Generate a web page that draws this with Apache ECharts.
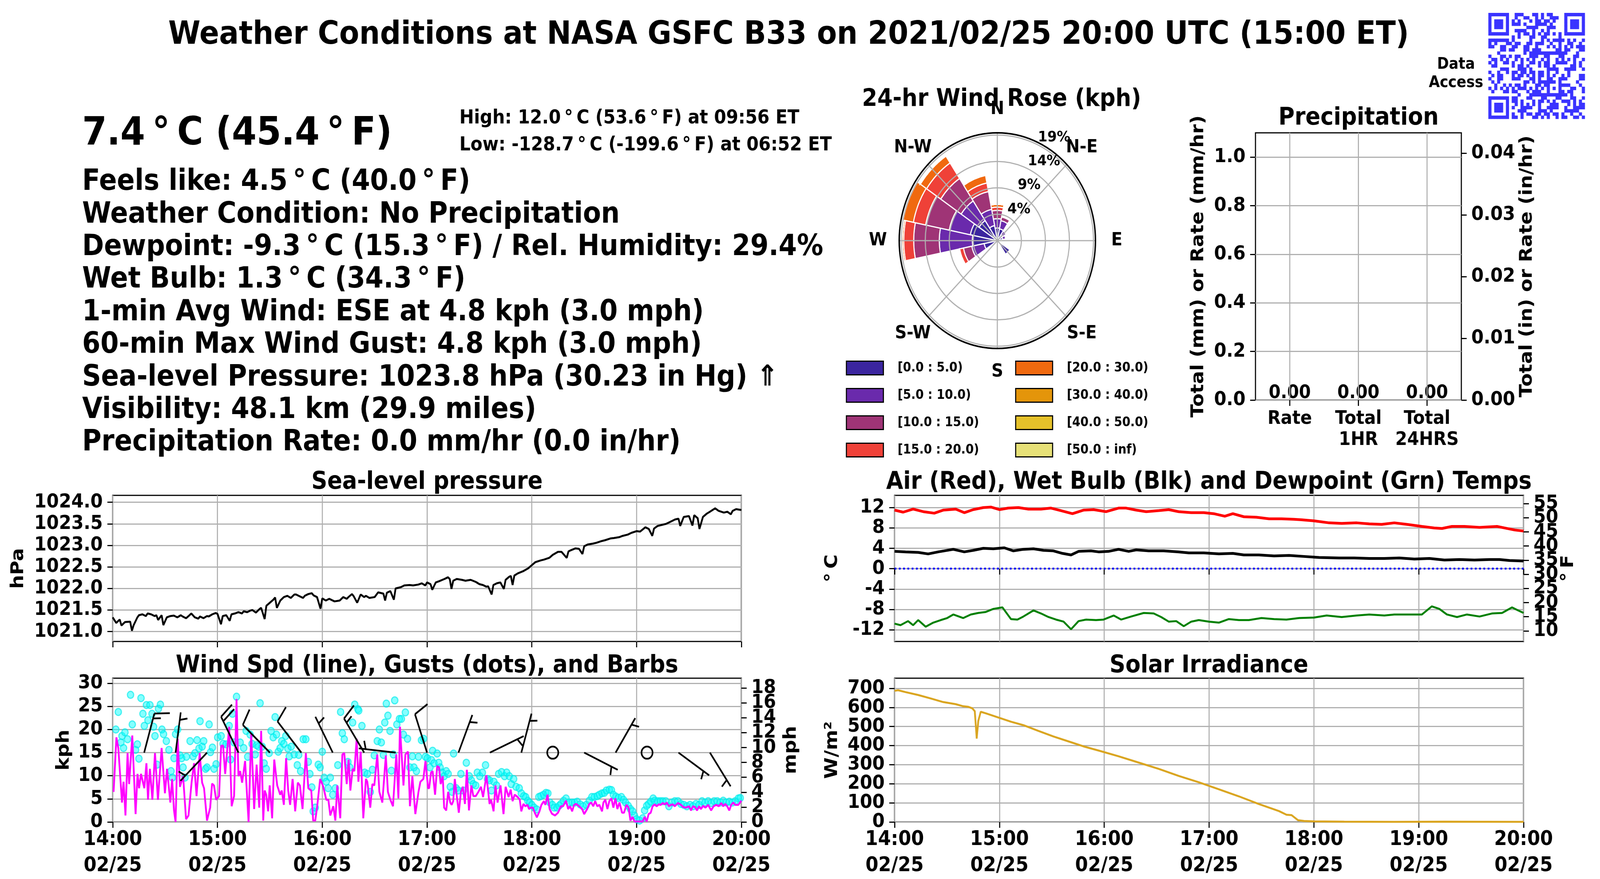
<!DOCTYPE html>
<html>
<head>
<meta charset="utf-8">
<script src="https://cdn.jsdelivr.net/npm/echarts@6/dist/echarts.min.js"></script>
<style>
html, body { margin: 0; padding: 0; background: #fff; overflow: hidden; width: 100%; height: 100%; }
#wrap { position: relative; width: 100vw; height: 100vh; overflow: hidden; background: #fff; }
#chart { position: absolute; left: 0; top: 0; width: 4500px; height: 2250px; transform-origin: 0 0; }
</style>
</head>
<body>
<div id="wrap"><div id="chart"></div></div>
<script>
// ---------- data ----------
// time axis: minutes after 14:00 ET, 02/25
const timeTicks = ['14:00', '15:00', '16:00', '17:00', '18:00', '19:00', '20:00'];
const dateTick = '02/25';

// sea-level pressure (hPa)
const pressMin = [0,2,4,5,7,10,11,12,14,15, 17,19,20,22,24,25,26,28,29,31, 33,35,37,39,40,42,44,45,47,49,
  50,52,54,55,57,59,60,62,63,65, 67,68,70,72,74,75,77,79,80,82, 84,85,87,88,90,92,93,94,96,98,
  100,102,104,105,107,109,110,112,114,115, 117,119,120,122,124,125,127,130,132,134, 135,137,138,140,142,144,145,147,150,152,
  155,156,157,159,161,162,165,167,170,172, 175,177,179,180,182,183,185,187,190,192, 193,194,195,197,200,202,205,208,210,212,
  214,215,217,218,220,222,224,225,227,228, 229,230,232,235,238,240,242,245,247,250, 252,255,257,260,261,262,265,267,269,270,
  272,275,277,280,282,285,287,290,292,295, 297,300,302,305,307,309,310,312,315,317, 320,322,324,325,327,330,332,333,335,336,
  338,340,342,345,347,350,352,354,355,357, 360];
const pressVal = [
  1021.33,1021.20,1021.28,1021.14,1021.22,1021.23,1021.02,1021.15,1021.32,1021.38,
  1021.40,1021.36,1021.42,1021.40,1021.36,1021.38,1021.27,1021.38,1021.15,1021.33,
  1021.36,1021.37,1021.33,1021.38,1021.35,1021.31,1021.38,1021.42,1021.33,1021.30,
  1021.35,1021.31,1021.36,1021.35,1021.40,1021.43,1021.41,1021.17,1021.36,1021.38,
  1021.25,1021.40,1021.42,1021.45,1021.42,1021.47,1021.45,1021.49,1021.50,1021.44,
  1021.52,1021.55,1021.29,1021.60,1021.67,1021.74,1021.79,1021.55,1021.72,1021.80,
  1021.83,1021.78,1021.86,1021.86,1021.82,1021.78,1021.83,1021.87,1021.89,1021.84,
  1021.80,1021.53,1021.77,1021.72,1021.76,1021.74,1021.70,1021.72,1021.80,1021.76,
  1021.80,1021.87,1021.82,1021.67,1021.86,1021.80,1021.83,1021.78,1021.80,1021.91,
  1021.88,1021.72,1021.90,1021.94,1021.74,1022.00,1022.03,1022.07,1022.08,1022.07,
  1022.09,1022.12,1022.07,1022.14,1022.10,1021.97,1022.14,1022.17,1022.22,1022.26,
  1022.22,1021.99,1022.18,1022.22,1022.20,1022.18,1022.20,1022.15,1022.10,1022.08,
  1022.04,1022.05,1021.86,1022.08,1022.12,1022.14,1021.99,1022.20,1022.27,1022.29,
  1022.08,1022.30,1022.35,1022.40,1022.47,1022.54,1022.61,1022.65,1022.67,1022.71,
  1022.78,1022.85,1022.85,1022.71,1022.86,1022.88,1022.93,1022.92,1022.80,1022.98,
  1023.02,1023.04,1023.06,1023.10,1023.12,1023.16,1023.17,1023.19,1023.22,1023.25,
  1023.29,1023.33,1023.32,1023.42,1023.38,1023.22,1023.39,1023.45,1023.48,1023.50,
  1023.56,1023.60,1023.62,1023.45,1023.66,1023.68,1023.46,1023.70,1023.63,1023.38,
  1023.66,1023.73,1023.78,1023.86,1023.80,1023.76,1023.78,1023.72,1023.80,1023.84,
  1023.82];
const pressTicks = [1021.0, 1021.5, 1022.0, 1022.5, 1023.0, 1023.5, 1024.0];

// temperatures (deg C)
const airMin = [0,4.9,10.6,16.4,22.7,27.8,35.0,39.9,45.0,50.8,55.1,60.0,65.1,70.9,76.6,83.8,89.5,95.2,101.8,108.1,
  113.9,121.1,128.2,132.5,138.3,144.0,151.2,156.9,162.6,169.8,177.0,182.7,189.0,193.6,199.9,207.1,214.3,221.5,228.6,232.9,
  240.1,248.7,255.9,264.5,271.7,278.8,286.0,293.2,301.8,308.9,313.3,319.0,326.2,334.8,344.8,349.1,354.9,360];
const airC = [11.5,11.1,11.7,11.2,10.9,11.5,11.7,11.0,11.6,12.0,12.1,11.6,11.9,12.0,11.7,11.7,11.9,11.4,10.8,11.5,
  11.6,11.2,11.9,11.9,11.5,11.2,11.4,11.6,11.2,11.0,11.0,10.8,10.3,10.8,10.2,10.1,9.8,9.8,9.7,9.6,
  9.4,9.0,8.9,9.0,8.8,8.7,9.0,8.7,8.3,8.0,7.9,8.3,8.3,8.1,8.3,8.0,7.6,7.4];
const wetMin = [0,6.3,13.5,19.2,25.0,33.6,39.9,45.0,50.8,56.5,62.8,68.0,73.7,79.5,85.2,90.9,96.1,101.0,105.3,112.4,
  116.8,122.5,128.2,134.0,138.3,145.4,154.0,162.6,168.4,177.0,185.6,193.6,199.9,208.5,217.2,225.8,234.4,243.0,254.4,263.1,
  271.7,280.3,288.9,297.5,306.1,314.7,323.3,331.9,340.5,346.2,352.0,360];
const wetC = [3.4,3.3,3.2,2.9,3.3,3.8,3.3,3.6,4.0,3.9,4.1,3.5,3.8,3.9,3.6,3.5,3.0,2.7,3.4,3.5,
  3.3,3.4,3.8,3.4,3.7,3.5,3.5,3.3,3.1,3.1,2.9,3.0,2.7,2.7,2.5,2.6,2.4,2.2,2.1,2.1,
  2.0,2.0,2.1,1.9,2.0,1.7,1.8,1.7,1.8,1.8,1.6,1.5];
const dewMin = [0,3.4,7.7,10.6,13.5,17.8,22.1,26.4,30.1,33.6,39.3,43.6,47.9,52.2,56.5,61.7,66.6,70.3,73.7,79.5,
  83.8,88.1,92.4,96.7,101.0,105.3,109.6,115.3,119.6,125.4,129.7,135.4,142.6,148.3,152.6,156.9,161.2,165.5,169.8,174.1,
  179.9,185.6,191.3,197.1,202.8,210.0,217.2,224.3,231.5,240.1,247.3,255.9,264.5,271.7,280.3,286.0,293.2,301.8,307.5,311.8,
  316.1,321.9,327.6,334.8,341.9,347.7,353.4,356.3,360];
const dewC = [-10.8,-11.1,-10.3,-11.1,-10.1,-11.4,-10.6,-10.1,-9.7,-9.0,-9.7,-9.0,-8.7,-8.5,-7.9,-7.6,-9.9,-10.0,-9.4,-8.2,
  -8.8,-9.5,-10.0,-10.4,-11.9,-10.3,-10.0,-10.1,-10.0,-9.2,-10.0,-9.4,-8.7,-8.8,-9.5,-10.4,-10.3,-11.3,-10.4,-10.1,
  -10.4,-10.6,-9.9,-10.1,-10.1,-9.7,-9.9,-10.0,-9.7,-9.6,-9.2,-9.5,-9.2,-9.0,-9.2,-9.0,-9.0,-9.0,-7.4,-7.9,
  -9.0,-9.5,-9.0,-9.4,-8.8,-8.7,-7.6,-8.1,-8.7];
const tempCTicks = [-12, -8, -4, 0, 4, 8, 12];
const tempFTicks = [10, 15, 20, 25, 30, 35, 40, 45, 50, 55];

// 1-min wind speed (kph)
const windMin = [0.5,2.1,3.2,5.3,6.2,7.3,8.5,9.4,11.2,13.1, 14.2,15.1,16.2,18.1,19.3,20.2,21.3,22.7,24.2,25.9,
  28.0,29.9,31.1,33.0,34.0,35.1,36.0,37.2,38.5,40.3, 42.0,43.4,45.2,46.6,48.0,49.8,51.2,52.3,54.0,55.8,
  56.9,58.0,59.2,60.9,62.1,63.2,64.4,66.7,68.1,69.5, 70.9,72.0,73.0,74.1,75.8,76.6,77.8,79.3,81.0,82.4,
  83.9,85.0,86.2,87.0,87.9,89.0,89.9,91.3,92.5,94.2, 95.9,96.8,98.0,99.3,100.5,101.6,103.0,104.5,106.0,107.2,
  108.7,110.6,112.0,113.7,114.8,116.0,117.1,118.8,120.6,122.3, 123.5,124.6,126.3,127.5,128.6,130.3,131.5,132.6,134.0,135.1,
  136.1,137.4,138.4,139.7,140.7,142.0,143.5,145.0,145.8,147.5, 148.7,149.8,151.5,152.7,154.4,156.4,157.6,159.0,160.5,162.4,
  163.6,164.5,166.5,167.6,169.1,170.2,171.6,173.3,175.1,176.2, 177.9,179.1,180.6,
  181.2,182.3,183.2,184.6,185.8,186.9,187.8,189.0,189.8,191.0, 192.1,193.3,194.1,195.0,195.9,197.1,198.2,199.4,200.5,201.7,
  202.8,204.0,205.4,206.5,207.9,209.4,210.9,212.1,214.0,215.8, 216.7,218.1,219.2,220.4,222.1,223.8,225.0,226.7,227.9,229.0,
  230.2,231.9,233.1,234.0,235.2,236.3,237.5,238.4,239.4,240.6, 241.7,242.9,244.4,245.5,246.9,247.8,249.0,250.2,251.5,253.3,
  255.0,256.7,257.9,259.6,260.8,261.9,263.1,264.2,265.4,267.1, 268.8,270.0,271.7,272.9,274.0,275.2,276.3,277.5,278.7,280.2,
  281.0,282.1,283.3,284.4,285.6,286.7,287.9,289.0,290.2,291.7, 292.8,294.2,295.4,296.5,297.7,298.8,301.2,303.5,304.6,305.8,
  306.9,308.1,309.2,310.4,311.5,312.7,313.8,315.0,316.2,317.3, 318.5,319.6,320.8,321.9,323.7,325.4,326.8,328.3,330.0,331.2,
  332.3,333.5,334.6,335.8,336.9,338.1,339.5,341.0,342.7,344.1, 345.6,347.1,348.5,349.6,350.8,351.9,353.1,354.2,355.4,356.5,
  358.3,360];
const windKph = [6.5,18.3,16,4.2,8.7,1.4,14.9,8.2,18.7,1.7, 10.4,7.3,10.4,7.3,12.7,4.8,11.5,4.8,14.9,4.8,
  16,6.2,11.5,4.2,9.3,2.5,0,18,7.6,9.9, 0.6,1.4,8.7,12.7,5.6,14.9,8.5,7.3,0.3,3.1,
  8.3,7.9,4.8,5.6,16.5,16.5,10.4,20.6,3.4,5.6, 26.6,9.9,11,8.5,13.2,7.9,0,19.2,2.8,12.4,
  3.1,19.7,0.3,6.8,5.9,2.3,7.9,0.8,13.5,7.9, 5.9,6.8,3.7,13.8,6.8,3.7,9.3,2.3,8.5,7.9,
  2.8,14.9,7.3,6.8,0.3,0.3,3.4,9.3,7.6,4.8, 4.8,1.4,3.4,0.3,7.9,0.8,14.6,14.9,8.2,13.5,
  6.8,11.5,11,18,8.7,15.2,0.8,9.3,8.7,3.1, 8.2,7.9,14.6,6.5,4.2,14.4,6.5,4.8,3.4,14.6,
  5.1,20.6,7.9,14.6,15.2,3.4,9.9,1.7,6.5,8.7, 9.3,13.2,7.3,
  7.3,10.7,11,5.9,12.1,11.8,8.2,9.9,3.1,2.5, 6.5,4.2,3.7,4.5,9.3,5.4,2,6.5,7.6,3.9,
  11.3,2.5,7.9,5.6,5.6,6.5,7.6,5.4,10.1,3.9, 4.8,2.3,7.9,4.2,7.9,1.7,7.6,5.4,7,4.5,
  5.9,5.4,4.8,2.3,3.9,3.4,3.7,2.8,3.1,3.1, 2,1,2.3,3.7,4.5,3.7,5.9,2.8,1.8,1.4,
  2,3.4,3.4,4.6,2.8,3.4,2.3,3.7,3.9,3.4, 2.8,1.7,2.8,3.9,4.2,3.4,4.5,3.4,3.7,2.3,
  4.2,4.8,2.8,4.5,5.1,3.1,5.1,2.8,4.2,2, 2,3.7,3.1,0.3,1.1,0.1,0.1,0.1,1.1,0.1,
  1.7,2,3.4,3.8,3.4,3.8,3.7,4.1,3.8,4.2, 3.4,3.7,3.8,3.4,4.1,3.7,3.2,3.1,3.4,2.5,
  3.4,3.2,2.5,3.4,2.8,3.5,3.1,3.7,2.5,3.4, 3.7,3.4,4.1,3.4,3.9,3.4,2.5,3.7,4.2,3.7,
  3.7,4.6];

// gusts (kph)
const gustMin = [1.8,3.2,4.7,5.3,6.2,7.0,8.5,10.2,11.2,13.1, 14.1,15.0,16.2,17.3,18.1,19.3,20.2,21.3,22.5,23.4,
  24.2,25.4,26.2,27.3,28.2,29.1,30.7,32.2,33.4,34.2, 35.1,36.0,37.2,38.5,39.5,40.3,41.4,42.2,44.3,46.0,
  47.1,48.3,49.4,50.0,51.2,52.1,53.2,54.0,55.2,56.0, 57.1,58.0,59.2,60.1,62.1,63.2,64.9,66.7,67.5,68.6,
  69.5,70.9,73.0,75.0,76.4,77.3,78.7,79.8,81.6,82.4, 83.5,84.4,85.6,86.7,87.9,89.6,90.7,91.9,93.0,93.8,
  94.8,95.9,96.8,98.0,99.1,100.3,101.1,102.2,103.9,105.7, 106.5,107.6,109.1,110.6,112.0,112.9,114.0,114.8,116.0,117.7,
  118.8,120.0,121.1,122.3,123.4,124.6,126.0,127.5,128.9,130.5, 131.5,132.6,134.7,135.8,137.4,138.6,140.4,140.9,142.7,144.3,
  145.8,147.5,148.7,149.8,151.5,152.7,153.8,155.0,155.8,156.7, 157.6,158.8,159.6,160.7,161.5,162.7,164.2,165.3,166.5,167.6,
  168.8,170.2,171.6,172.5,173.9,175.1,176.8,178.0,179.1,180.2,
  181.7,182.5,183.2,184.0,185.8,186.7,187.5,188.7,189.8,191.0, 192.1,193.3,194.4,195.2,196.7,197.9,199.4,200.8,202.5,204.2,
  205.4,206.5,207.9,208.8,210.2,211.7,213.5,214.6,215.8,216.9, 218.3,219.8,221.0,222.7,224.4,225.6,227.1,228.2,229.6,231.0,
  232.8,234.0,235.4,236.5,237.7,238.8,240.0,241.4,242.9,244.0, 245.2,246.7,248.1,249.2,250.4,251.8,252.9,254.4,255.6,256.7,
  258.2,259.6,261.3,263.1,264.5,266.0,267.7,269.4,271.2,272.9, 274.4,275.8,277.5,278.7,280.2,281.5,282.7,284.4,285.6,286.7,
  288.2,289.6,291.3,292.5,293.7,295.2,296.5,297.7,298.8,300.0, 301.7,303.5,304.6,305.8,306.9,308.1,309.5,310.4,312.1,313.6,
  315.0,316.7,318.5,320.2,321.9,323.7,325.4,327.1,328.8,330.6, 332.3,334.0,335.8,337.5,339.2,341.0,342.7,344.4,346.2,347.9,
  349.6,351.3,353.1,354.8,356.5,358.3,359.4];
const gustKph = [20,23.8,17.2,18.6,16,19.4,17.9,27.5,21.1,15.6, 16.8,13.7,26.8,23.4,20.8,25.3,22,25.3,23.4,20.6,
  18.6,12.4,24.5,25.4,20,19,17.5,15.6,11,9.6, 13.8,19,20,14.4,13.8,11.8,9.6,14.1,17.5,14.2,
  14.9,17.7,15.9,21.8,16.3,17.5,11.5,11.8,21.1,15.1, 16.1,11.5,12.5,18.3,18.6,16.9,16.8,20.8,13.5,23.4,
  17.2,27.1,17.2,16,19.7,14.1,18.9,16.9,14.6,16.6, 16.3,25.7,16.3,12.7,11.5,14.9,19.7,18.3,22.7,18.9,
  15.2,16,17.5,16.9,18.6,15.9,14.2,16.3,14.6,12.3, 14.5,11,17.9,17.9,13,10.4,7.5,2.3,3.1,12.4,
  11.8,15.2,9.6,8.7,7.3,9.6,5.9,7.3,12.3,23.8, 19.2,17.9,13,11.8,21.5,25.4,24.4,24.1,20.8,10.7,
  10.4,6.5,11.3,14.4,17.5,20,17.2,14.5,21.5,25.6, 23,19.7,11.1,14.6,26.3,21.1,22.3,22.3,18.9,23.7,
  18,11.8,14.2,11.8,11,14.1,17.7,18,14.1,13.8,
  11.8,13.4,15.4,12.7,14.8,12.8,11.8,10.7,9.9,11, 10.4,7.6,6.5,14.8,7.3,6.8,10.4,6.8,12.8,9.9,
  9,8.2,7.9,10.7,9.9,10.7,12.3,9.3,9,6.8, 8.7,7.9,10.4,10.8,9.9,10.7,9.9,8.2,9.3,7.6,
  7.3,6.2,5.6,5.4,4.6,4.2,3.7,3.1,2.7,5.4, 5.6,5.9,6.3,6.2,4.2,3.7,3.1,3.1,3.5,3.9,
  4.6,5.1,4.2,4.2,4.2,4.4,3.8,3.4,3.7,4.6, 5.4,5.4,5.6,5.9,6.2,6.3,6.8,7,6.9,5.9,
  5.5,5.2,5.4,4.8,4.2,3.5,2.8,2.3,1.4,0.6, 0.3,0.8,2.5,3.5,3.9,4.4,5.1,4.6,4.5,4.5,
  4.5,4.5,3.4,4.2,4.5,4.5,3.9,3.7,3.4,3.7, 3.4,3.9,3.7,4.5,4.2,4.5,4.1,4.5,4.5,4.2,
  4.6,4.2,4.4,4.2,4.5,5.1,5.2];
const kphTicks = [0, 5, 10, 15, 20, 25, 30];
const mphTicks = [0, 2, 4, 6, 8, 10, 12, 14, 16, 18];

// wind barbs every 18 min: staff direction (deg, clockwise from up) and speed units
const barbMin = [18,36,54,72,90,108,126,144,162,180,198,216,234,252,270,288,306,324,342];
const barbDir = [16,8,226,332,313,320,332,327,276,341,22,66,16,0,115,32,0,124,146];
const barbSpd = [15,5,5,20,10,10,5,15,5,10,5,5,5,0,5,5,0,5,5];
const BARB_LEVEL = 15;

// solar irradiance (W/m2)
const solarMin = [0,2.0,6.3,13.5,20.7,27.8,35.0,39.3,42.2,44.5,45.9,47.0,47.9,49.3,52.2,59.4,66.6,73.7,82.3,90.9,
  99.5,108.1,116.8,128.2,139.7,151.2,162.6,174.1,185.6,197.1,208.5,220.0,224.3,227.2,230.9,234.4,240.1,257.3,286.0,314.7,360];
const solarW = [687,690,680,665,647,628,617,606,603,595,580,437,529,577,569,547,525,507,477,448,
  422,396,374,344,311,278,241,208,171,134,94,57,38,36,9,5,3,1.5,0.7,1.5,0.7];
const solarTicks = [0, 100, 200, 300, 400, 500, 600, 700];

// precipitation
const precipCats = ['Rate', 'Total\n1HR', 'Total\n24HRS'];
const precipVals = [0, 0, 0];
const mmTicks = [0, 0.2, 0.4, 0.6, 0.8, 1.0];
const inTicks = [0, 0.01, 0.02, 0.03, 0.04];

// 24-hr wind rose: % of time per direction, per speed bin
const roseDirs = ['N','NNE','NE','ENE','E','ESE','SE','SSE','S','SSW','SW','WSW','W','WNW','NW','NNW'];
const compassLabels = ['N', 'N-E', 'E', 'S-E', 'S', 'S-W', 'W', 'N-W'];
const binLabels = ['[0.0 : 5.0)', '[5.0 : 10.0)', '[10.0 : 15.0)', '[15.0 : 20.0)',
                   '[20.0 : 30.0)', '[30.0 : 40.0)', '[40.0 : 50.0)', '[50.0 : inf)'];
const binColors = ['#3b259f', '#6a2aac', '#9f3476', '#ef4138', '#f0690f', '#e4950a', '#e5c12a', '#e6e077'];
const roseBins = [
  [2.3,2.2,1.3,1.1,0.5,0.4,3.0,0,0,0,0.3,2.7,5.0,5.5,4.4,2.8],
  [1.7,1.5,0.8,0.6,0.1,0,0,0,0,0,0,2.5,6.6,4.3,4.3,3.0],
  [1.5,0.7,0.2,0.1,0,0,0,0,0,0,0,1.7,5.1,4.8,4.9,3.3],
  [0.6,0.2,0,0,0,0,0,0,0,0,0,0.8,2.0,2.5,3.4,1.6],
  [0.5,0,0,0,0,0,0,0,0,0,0,0,0.3,2.1,1.5,1.4],
  [0,0,0,0,0,0,0,0,0,0,0,0,0,0,0,0],
  [0,0,0,0,0,0,0,0,0,0,0,0,0,0,0,0],
  [0,0,0,0,0,0,0,0,0,0,0,0,0,0,0,0]
];
const roseRings = [4.8, 9.6, 14.4, 19.2];

// text panel
const headline = '7.4\u2009°\u2009C (45.4\u2009°\u2009F)';
const highLow = ['High: 12.0\u2009°\u2009C (53.6\u2009°\u2009F) at 09:56 ET',
                 'Low: -128.7\u2009°\u2009C (-199.6\u2009°\u2009F) at 06:52 ET'];
const infoLines = [
  'Feels like: 4.5\u2009°\u2009C (40.0\u2009°\u2009F)',
  'Weather Condition: No Precipitation',
  'Dewpoint: -9.3\u2009°\u2009C (15.3\u2009°\u2009F) / Rel. Humidity: 29.4%',
  'Wet Bulb: 1.3\u2009°\u2009C (34.3\u2009°\u2009F)',
  '1-min Avg Wind: ESE at 4.8 kph (3.0 mph)',
  '60-min Max Wind Gust: 4.8 kph (3.0 mph)',
  'Sea-level Pressure: 1023.8 hPa (30.23 in Hg) \u21D1',
  'Visibility: 48.1 km (29.9 miles)',
  'Precipitation Rate: 0.0 mm/hr (0.0 in/hr)'
];

// ---------- helpers ----------
const FONT = 'DejaVu Sans';
function bold(size, extra) {
  return Object.assign({ fontFamily: FONT, fontWeight: 'bold', fontSize: size, color: '#000' }, extra || {});
}
function zip(xs, ys) {
  let out = [];
  for (let i = 0; i < Math.min(xs.length, ys.length); i++) out.push([xs[i], ys[i]]);
  return out;
}
// every other tick value (crowded axes get their labels split over two stacked axes)
const everyOther = (arr, start) => arr.filter((v, i) => i % 2 === start);

const tickStyle = { show: true, length: 15, lineStyle: { color: '#000', width: 3 } };
const gridLine = { show: true, lineStyle: { color: '#b0b0b0', width: 3 } };

function timeAxis(grid, showLabels) {
  return {
    type: 'value', gridIndex: grid, min: 0, max: 360, interval: 60,
    axisLine: { show: false },
    axisTick: tickStyle,
    axisLabel: bold(52, {
      show: showLabels, lineHeight: 67, margin: 12, showMinLabel: true, showMaxLabel: true,
      formatter: v => timeTicks[Math.round(v / 60)] + '\n' + dateTick
    }),
    splitLine: gridLine
  };
}
function valAxis(o) {
  const labels = o.labels || o.ticks;
  return {
    type: 'value', gridIndex: o.grid, position: o.pos || 'left', min: o.min, max: o.max,
    axisLine: { show: false },
    axisTick: Object.assign({ customValues: o.ticks }, tickStyle),
    axisLabel: bold(50, { customValues: labels, formatter: o.fmt, margin: 28, lineHeight: 28,
      showMinLabel: true, showMaxLabel: true }),
    splitLine: o.split === false ? { show: false } : gridLine,
    name: o.name, nameLocation: 'middle', nameGap: o.gap, nameTextStyle: bold(50)
  };
}
// second axis on the same side that only carries the remaining labels
function labelAxis(o) {
  return {
    type: 'value', gridIndex: o.grid, position: o.pos || 'left', min: o.min, max: o.max,
    axisLine: { show: false },
    axisTick: { show: false, customValues: o.labels },
    axisLabel: bold(50, { customValues: o.labels, formatter: o.fmt, margin: 28, lineHeight: 28,
      showMinLabel: true, showMaxLabel: true }),
    splitLine: { show: false }
  };
}

// wind barb glyph
function drawBarb(params, api) {
  const base = api.coord([api.value(0), api.value(1)]);
  const ang = api.value(2) * Math.PI / 180;
  const spd = api.value(3);
  const L = 104, sp = 0.125 * L, h = 0.4 * L, w = 0.25 * L;
  const st = { stroke: '#000', lineWidth: 4.5, fill: null };
  if (spd < 2.5) {
    return { type: 'circle', shape: { cx: base[0], cy: base[1], r: 0.15 * L }, style: { stroke: '#000', lineWidth: 4.5, fill: 'none' } };
  }
  const dx = Math.sin(ang), dy = -Math.cos(ang);
  const px = -dy, py = dx;
  const pt = off => [base[0] + dx * off, base[1] + dy * off];
  const tip = pt(L);
  const kids = [{ type: 'line', shape: { x1: base[0], y1: base[1], x2: tip[0], y2: tip[1] }, style: st }];
  const full = Math.floor(spd / 10);
  const half = spd - full * 10 >= 5;
  let off = L;
  for (let i = 0; i < full; i++) {
    const a = pt(off);
    kids.push({ type: 'line', shape: { x1: a[0], y1: a[1], x2: a[0] + px * h + dx * w / 2, y2: a[1] + py * h + dy * w / 2 }, style: st });
    off -= sp;
  }
  if (half) {
    if (full === 0) off -= 1.5 * sp;
    const a = pt(off);
    kids.push({ type: 'line', shape: { x1: a[0], y1: a[1], x2: a[0] + px * h / 2 + dx * w / 4, y2: a[1] + py * h / 2 + dy * w / 4 }, style: st });
  }
  return { type: 'group', children: kids };
}

// pseudo QR block (decoration only)
function qrGraphic() {
  const n = 33, size = 271, x0 = 4186, y0 = 33, m = size / n;
  const kids = [];
  function finder(r, c) {
    return (r < 8 && c < 8) || (r < 8 && c >= n - 8) || (r >= n - 8 && c < 8);
  }
  function finderOn(r, c) {
    let rr = r, cc = c;
    if (cc >= n - 8) cc = cc - (n - 7);
    if (rr >= n - 8) rr = rr - (n - 7);
    if (rr < 0 || cc < 0 || rr > 6 || cc > 6) return false;
    if (rr === 0 || rr === 6 || cc === 0 || cc === 6) return true;
    return rr >= 2 && rr <= 4 && cc >= 2 && cc <= 4;
  }
  for (let r = 0; r < n; r++) {
    for (let c = 0; c < n; c++) {
      let on;
      if (finder(r, c)) on = finderOn(r, c);
      else on = ((r * 7 + c * 11 + (r * c) % 13) % 5) < 2 || ((r + 2 * c) % 9 === 0);
      if (on) kids.push({ type: 'rect', shape: { x: x0 + c * m, y: y0 + r * m, width: m + 0.6, height: m + 0.6 }, style: { fill: '#3a33ff' } });
    }
  }
  return { type: 'group', silent: true, children: kids };
}

// ---------- chart ----------
// the page is laid out on a 4500x2250 canvas; map it onto whatever viewport we get
let chartDom = document.getElementById('chart');
let sx = window.innerWidth / 4500, sy = window.innerHeight / 2250;
if (sx > 0 && sy > 0 && (Math.abs(sx - 1) > 0.001 || Math.abs(sy - 1) > 0.001)) {
  chartDom.style.transform = 'scale(' + sx + ',' + sy + ')';
}

let myChart = echarts.init(chartDom, null, { renderer: 'canvas' });

const ROSE_C = [2805, 616], ROSE_R = 276, COMPASS_R = 336;

let graphics = [];
graphics.push({ type: 'text', x: 231, y: 344, style: { text: headline, fontSize: 100, fontWeight: 'bold', fontFamily: FONT, fill: '#000', verticalAlign: 'middle' } });
highLow.forEach((t, i) => graphics.push({ type: 'text', x: 1292, y: 303 + i * 69, style: { text: t, fontSize: 49, fontWeight: 'bold', fontFamily: FONT, fill: '#000', verticalAlign: 'middle' } }));
infoLines.forEach((t, i) => graphics.push({ type: 'text', x: 231, y: 467 + i * 83.4, style: { text: t, fontSize: 74, fontWeight: 'bold', fontFamily: FONT, fill: '#000', verticalAlign: 'middle' } }));
// compass point names around the rose, centred on a ring just outside it
compassLabels.forEach((t, i) => {
  const a = i * 45 * Math.PI / 180;
  graphics.push({ type: 'text', x: ROSE_C[0] + COMPASS_R * Math.sin(a), y: ROSE_C[1] - COMPASS_R * Math.cos(a), z: 10,
    style: { text: t, fontSize: 46, fontWeight: 'bold', fontFamily: FONT, fill: '#000', align: 'center', verticalAlign: 'middle' } });
});
graphics.push(qrGraphic());

let roseSeries = binLabels.map((name, i) => ({
  type: 'bar', coordinateSystem: 'polar', polarIndex: 0, name: name, stack: 'rose',
  data: roseBins[i], barCategoryGap: '0%',
  itemStyle: { color: binColors[i], borderColor: '#fff', borderWidth: 3 },
  z: 2
}));

const fMin = -14.3 * 1.8 + 32, fMax = 14.4 * 1.8 + 32;
const mphMax = 31.1 / 1.609344;

const option = {
  animation: false,
  backgroundColor: '#fff',
  textStyle: { fontFamily: FONT },
  title: [
    { text: 'Weather Conditions at NASA GSFC B33 on 2021/02/25 20:00 UTC (15:00 ET)', left: 2218, top: 50, textAlign: 'center', padding: 0, textStyle: bold(82, { lineHeight: 82 }) },
    { text: 'Data\nAccess', left: 4095, top: 142, textAlign: 'center', padding: 0, textStyle: bold(40, { lineHeight: 47 }) },
    { text: '24-hr Wind Rose (kph)', left: 2817, top: 224, textAlign: 'center', padding: 0, textStyle: bold(62, { lineHeight: 62 }) },
    { text: 'Precipitation', left: 3821, top: 272, textAlign: 'center', padding: 0, textStyle: bold(62, { lineHeight: 62 }) },
    { text: 'Sea-level pressure', left: 1201, top: 1204, textAlign: 'center', padding: 0, textStyle: bold(62, { lineHeight: 62 }) },
    { text: 'Air (Red), Wet Bulb (Blk) and Dewpoint (Grn) Temps', left: 3400, top: 1204, textAlign: 'center', padding: 0, textStyle: bold(62, { lineHeight: 62 }) },
    { text: 'Wind Spd (line), Gusts (dots), and Barbs', left: 1201, top: 1674, textAlign: 'center', padding: 0, textStyle: bold(62, { lineHeight: 62 }) },
    { text: 'Solar Irradiance', left: 3400, top: 1674, textAlign: 'center', padding: 0, textStyle: bold(62, { lineHeight: 62 }) }
  ],
  legend: [
    { data: binLabels.slice(0, 4), orient: 'vertical', left: 2379, top: 923, padding: 0, itemWidth: 104, itemHeight: 35, itemGap: 32, icon: 'rect', selectedMode: false,
      textStyle: bold(33, { lineHeight: 35, padding: [0, 0, 0, 35] }), itemStyle: { borderColor: '#000', borderWidth: 3 } },
    { data: binLabels.slice(4), orient: 'vertical', left: 2855, top: 923, padding: 0, itemWidth: 104, itemHeight: 35, itemGap: 32, icon: 'rect', selectedMode: false,
      textStyle: bold(33, { lineHeight: 35, padding: [0, 0, 0, 35] }), itemStyle: { borderColor: '#000', borderWidth: 3 } }
  ],
  graphic: graphics,
  grid: [
    { left: 317, top: 1268, width: 1768, height: 374, show: true, borderColor: '#000', borderWidth: 3 },
    { left: 2516, top: 1268, width: 1769, height: 374, show: true, borderColor: '#000', borderWidth: 3 },
    { left: 317, top: 1736, width: 1768, height: 376, show: true, borderColor: '#000', borderWidth: 3 },
    { left: 2516, top: 1736, width: 1769, height: 376, show: true, borderColor: '#000', borderWidth: 3 },
    { left: 3531, top: 340, width: 579, height: 684, show: true, borderColor: '#000', borderWidth: 3 }
  ],
  xAxis: [
    timeAxis(0, false),
    timeAxis(1, false),
    timeAxis(2, true),
    timeAxis(3, true),
    { type: 'category', gridIndex: 4, data: precipCats, boundaryGap: true,
      axisLine: { show: false },
      axisTick: Object.assign({ alignWithLabel: true }, tickStyle),
      axisLabel: bold(48, { lineHeight: 54, margin: 22, interval: 0 }),
      splitLine: { show: false } }
  ],
  yAxis: [
    valAxis({ grid: 0, min: 1020.77, max: 1024.16, ticks: pressTicks, fmt: v => v.toFixed(1), name: 'hPa', gap: 240 }),
    valAxis({ grid: 1, min: -14.3, max: 14.4, ticks: tempCTicks, fmt: v => String(v), name: '°\u2009C', gap: 150 }),
    valAxis({ grid: 1, pos: 'right', min: fMin, max: fMax, ticks: tempFTicks, labels: everyOther(tempFTicks, 1), fmt: v => String(v), name: '°\u2009F', gap: 100, split: false }),
    valAxis({ grid: 2, min: 0, max: 31.1, ticks: kphTicks, fmt: v => String(v), name: 'kph', gap: 112 }),
    valAxis({ grid: 2, pos: 'right', min: 0, max: mphMax, ticks: mphTicks, labels: everyOther(mphTicks, 0), fmt: v => String(v), name: 'mph', gap: 115, split: false }),
    valAxis({ grid: 3, min: 0, max: 753, ticks: solarTicks, labels: everyOther(solarTicks, 0), fmt: v => String(v), name: 'W/m²', gap: 150 }),
    valAxis({ grid: 4, min: 0, max: 1.1, ticks: mmTicks, fmt: v => v.toFixed(1), name: 'Total (mm) or Rate (mm/hr)', gap: 135 }),
    valAxis({ grid: 4, pos: 'right', min: 0, max: 1.1 / 25.4, ticks: inTicks, fmt: v => v.toFixed(2), name: 'Total (in) or Rate (in/hr)', gap: 160, split: false }),
    labelAxis({ grid: 1, pos: 'right', min: fMin, max: fMax, labels: everyOther(tempFTicks, 0), fmt: v => String(v) }),
    labelAxis({ grid: 2, pos: 'right', min: 0, max: mphMax, labels: everyOther(mphTicks, 1), fmt: v => String(v) }),
    labelAxis({ grid: 3, min: 0, max: 753, labels: everyOther(solarTicks, 1), fmt: v => String(v) })
  ],
  polar: [
    { center: ROSE_C, radius: ROSE_R },
    { center: ROSE_C, radius: ROSE_R },
    { center: ROSE_C, radius: ROSE_R }
  ],
  angleAxis: [
    { polarIndex: 0, type: 'category', data: roseDirs, startAngle: 101.25, clockwise: true, boundaryGap: true,
      axisLine: { show: false }, axisTick: { show: false }, axisLabel: { show: false }, splitLine: { show: false } },
    { polarIndex: 1, type: 'value', min: 0, max: 360, interval: 45, startAngle: 90, clockwise: true, z: 5,
      axisLine: { show: true, lineStyle: { color: '#000', width: 4 } }, axisTick: { show: false },
      axisLabel: { show: false },
      splitLine: { show: true, lineStyle: { color: '#b0b0b0', width: 3 } } },
    { polarIndex: 2, type: 'value', min: 0, max: 360, startAngle: 65, clockwise: true,
      axisLine: { show: false }, axisTick: { show: false }, axisLabel: { show: false }, splitLine: { show: false } }
  ],
  radiusAxis: [
    { polarIndex: 0, min: 0, max: 19.6, axisLine: { show: false }, axisTick: { show: false }, axisLabel: { show: false }, splitLine: { show: false } },
    { polarIndex: 1, min: 0, max: 19.6, z: 5, axisLine: { show: false },
      axisTick: { show: false, customValues: roseRings }, axisLabel: { show: false, customValues: roseRings },
      splitLine: { show: true, lineStyle: { color: '#b0b0b0', width: 3 } } },
    { polarIndex: 2, min: 0, max: 19.6, z: 6, axisLine: { show: false },
      axisTick: { show: false, customValues: roseRings },
      axisLabel: bold(38, { customValues: roseRings, margin: 0, align: 'left', verticalAlign: 'bottom', formatter: v => Math.floor(v) + '%' }),
      splitLine: { show: false } }
  ],
  series: [
    { type: 'line', name: 'pressure', xAxisIndex: 0, yAxisIndex: 0, data: zip(pressMin, pressVal), showSymbol: false, symbol: 'none',
      lineStyle: { color: '#000', width: 5 }, z: 3 },
    { type: 'line', name: 'air', xAxisIndex: 1, yAxisIndex: 1, data: zip(airMin, airC), showSymbol: false, symbol: 'none',
      lineStyle: { color: '#ff0000', width: 7 }, z: 3,
      markLine: { silent: true, symbol: 'none', label: { show: false },
        lineStyle: { color: '#0000ff', width: 5, type: [5, 7] }, data: [{ yAxis: 0 }] } },
    { type: 'line', name: 'wetbulb', xAxisIndex: 1, yAxisIndex: 1, data: zip(wetMin, wetC), showSymbol: false, symbol: 'none',
      lineStyle: { color: '#000', width: 7 }, z: 3 },
    { type: 'line', name: 'dewpoint', xAxisIndex: 1, yAxisIndex: 1, data: zip(dewMin, dewC), showSymbol: false, symbol: 'none',
      lineStyle: { color: '#008000', width: 5 }, z: 3 },
    { type: 'scatter', name: 'gust', xAxisIndex: 2, yAxisIndex: 3, data: zip(gustMin, gustKph), symbolSize: 18,
      itemStyle: { color: 'rgba(0,255,255,0.6)', borderColor: 'rgba(0,235,235,0.85)', borderWidth: 3 }, z: 2 },
    { type: 'line', name: 'speed', xAxisIndex: 2, yAxisIndex: 3, data: zip(windMin, windKph), showSymbol: false, symbol: 'none',
      lineStyle: { color: '#ff00ff', width: 5 }, z: 3 },
    { type: 'custom', name: 'barbs', xAxisIndex: 2, yAxisIndex: 3, renderItem: drawBarb,
      encode: { x: 0, y: 1 }, data: barbMin.map((t, i) => [t, BARB_LEVEL, barbDir[i], barbSpd[i]]), z: 4 },
    { type: 'line', name: 'solar', xAxisIndex: 3, yAxisIndex: 5, data: zip(solarMin, solarW), showSymbol: false, symbol: 'none',
      lineStyle: { color: '#daa520', width: 5 }, z: 3 },
    { type: 'bar', name: 'precip', xAxisIndex: 4, yAxisIndex: 6, data: precipVals, barWidth: '60%',
      itemStyle: { color: '#1f77b4' },
      label: bold(48, { show: true, position: 'top', distance: 0, lineHeight: 34, formatter: p => Number(p.value).toFixed(2) }),
      markLine: { silent: true, symbol: 'none', label: { show: false }, lineStyle: { color: '#b0b0b0', width: 3, type: 'solid' },
        data: precipCats.map(c => ({ xAxis: c })) } }
  ].concat(roseSeries)
};

myChart.setOption(option);
window.addEventListener('resize', function () {
  myChart.resize();
});
</script>
</body>
</html>
